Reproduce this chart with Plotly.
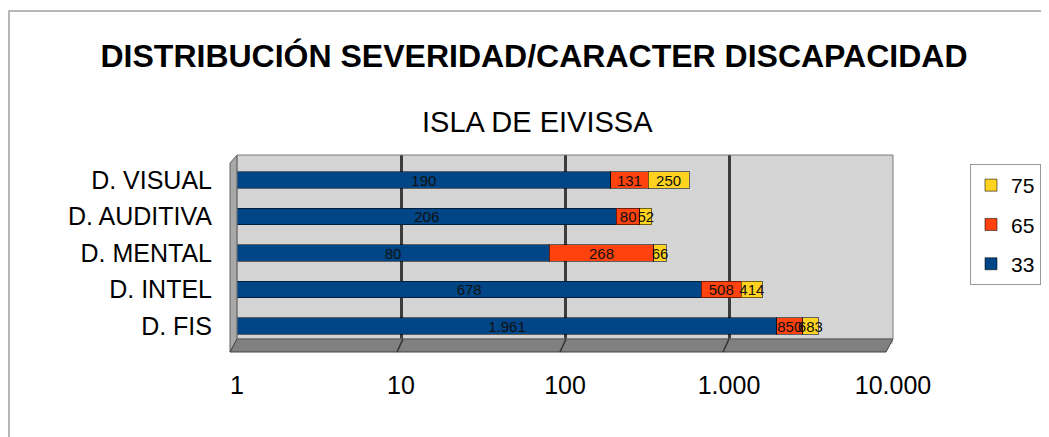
import plotly.graph_objects as go

categories = ["D. FIS", "D. INTEL", "D. MENTAL", "D. AUDITIVA", "D. VISUAL"]
series_names = ["33", "65", "75"]
values_33 = [1961, 678, 80, 206, 190]
values_65 = [850, 508, 268, 80, 131]
values_75 = [683, 414, 66, 52, 250]
colors = ["#004586", "#ff420e", "#ffd320"]
tick_vals = [1, 10, 100, 1000, 10000]
tick_text = ["1", "10", "100", "1.000", "10.000"]

W, H = 1049, 437
OFF = 8  # the page body adds an 8px margin around the figure
# plot area in screen pixels
L, R, T, B = 237, 893, 155, 344


def px(x):
    return (x - L) / (R - L)


def py(y):
    return (B - y) / (B - T)


fig = go.Figure()
for i, (name, vals, col) in enumerate(zip(series_names, [values_33, values_65, values_75], colors)):
    fig.add_trace(
        go.Bar(
            y=categories,
            x=vals,
            name=name,
            orientation="h",
            legendgroup=name,
            legendrank=3 - i,
            marker=dict(color=col, line=dict(color="rgba(0,0,0,0.55)", width=1)),
            texttemplate="%{x:,.0f}",
            textposition="inside",
            insidetextanchor="middle",
            textangle=0,
            textfont=dict(color="#111111", size=15),
        )
    )

shapes = [
    # left wall
    dict(type="path", xref="paper", yref="paper", layer="below",
         path=f"M {px(237)} {py(155)} L {px(230)} {py(163)} L {px(230)} {py(352)} L {px(237)} {py(340)} Z",
         fillcolor="#a8a8a8", line=dict(color="#606060", width=1)),
    # floor
    dict(type="path", xref="paper", yref="paper", layer="above",
         path=f"M {px(237)} {py(339)} L {px(893)} {py(339)} L {px(886)} {py(352)} L {px(230)} {py(352)} Z",
         fillcolor="#808080", line=dict(color="#404040", width=1)),
    # wall outline
    dict(type="rect", xref="paper", yref="paper", layer="above",
         x0=0, x1=1, y0=py(339), y1=1, line=dict(color="#7a7a7a", width=1)),
    # outer frame
    dict(type="rect", xref="paper", yref="paper", layer="below",
         x0=px(9), x1=px(1070), y0=py(460), y1=py(11), line=dict(color="#a0a0a0", width=1.5)),
]
# slanted ticks on the floor
for xpix in [403, 566, 729]:
    shapes.append(dict(type="line", xref="paper", yref="paper", layer="above",
                       x0=px(xpix), y0=py(339), x1=px(xpix - 6), y1=py(352),
                       line=dict(color="#303030", width=1.5)))

fig.update_layout(
    width=W,
    height=H,
    barmode="stack",
    bargap=0.56,
    separators=",.",
    paper_bgcolor="white",
    plot_bgcolor="#d4d4d4",
    font=dict(family="Liberation Sans, Arial, sans-serif", color="#000000"),
    margin=dict(l=L - OFF, r=W - R + OFF, t=T - OFF, b=H - B + OFF, autoexpand=False),
    title=dict(
        text="<b>DISTRIBUCIÓN SEVERIDAD/CARACTER DISCAPACIDAD</b>",
        xref="paper", x=px(534), xanchor="center", y=1 - (56 - OFF) / H, yanchor="middle",
        font=dict(size=32),
    ),
    annotations=[
        dict(text="ISLA DE EIVISSA", xref="paper", yref="paper",
             x=px(537), y=py(122), showarrow=False,
             xanchor="center", yanchor="middle", font=dict(size=29))
    ],
    uniformtext=dict(minsize=15, mode="show"),
    legend=dict(
        x=px(970), y=py(164), xanchor="left", yanchor="top",
        traceorder="grouped", tracegroupgap=9, itemwidth=30,
        bordercolor="#999999", borderwidth=1, bgcolor="white",
        font=dict(size=21),
    ),
    shapes=shapes,
)
fig.update_xaxes(
    type="log",
    range=[0, 4],
    tickvals=tick_vals,
    ticktext=tick_text,
    showgrid=True,
    gridcolor="#3c3c3c",
    gridwidth=3,
    zeroline=False,
    showline=False,
    ticklabelstandoff=24,
    tickfont=dict(size=25),
)
fig.update_yaxes(
    range=[-0.493, 4.685],
    showgrid=False,
    ticklabelstandoff=24,
    tickfont=dict(size=25),
)

fig.write_html("out.html")
